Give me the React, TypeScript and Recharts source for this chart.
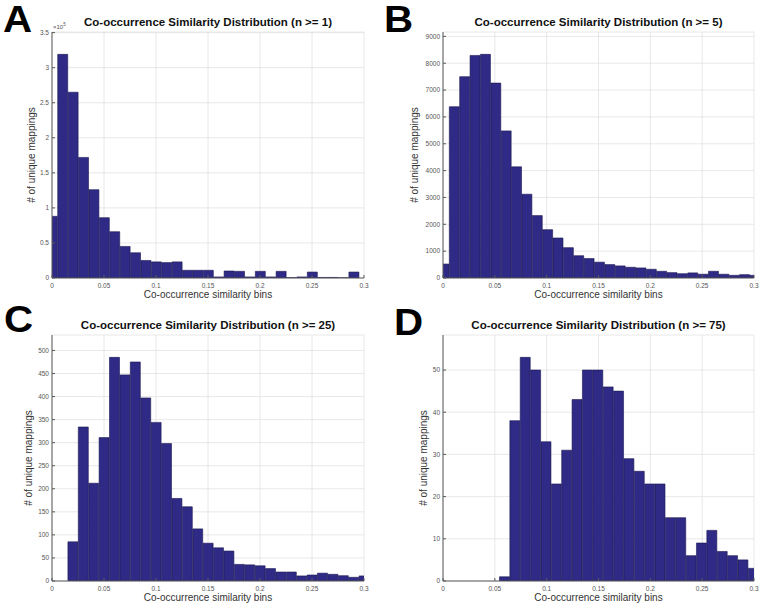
import { Bar, BarChart, CartesianGrid, XAxis, YAxis } from "recharts";

const FONT = "'Liberation Sans', Arial, Helvetica, sans-serif";
const BAR_FILL = "#2f2a85";
const BAR_EDGE = "#1b1850";
const FRAME = "#5a5a5a";

const BIN_WIDTH = 0.01;
const X_TICKS = [0, 0.05, 0.1, 0.15, 0.2, 0.25, 0.3];

// n >= 1 (counts, axis shows x10^5)
const A_FIRST_EDGE = -0.0045;
const A_COUNTS = [
  88000, 319000, 265000, 172000, 126000, 86000, 66000, 45000, 36000, 25000,
  23000, 22000, 23000, 11000, 11000, 11000, 1500, 10000, 9500, 1500, 9500,
  1500, 9500, 500, 1500, 8500, 800, 800, 300, 8500, 0,
];
const A_Y_TICKS = [0, 50000, 100000, 150000, 200000, 250000, 300000, 350000];

// n >= 5
const B_FIRST_EDGE = -0.0039;
const B_COUNTS = [
  520, 6380, 7500, 8290, 8330, 7260, 5480, 4140, 3120, 2325, 1800, 1490, 1130,
  830, 725, 590, 500, 450, 400, 375, 325, 250, 200, 160, 190, 140, 250, 140,
  100, 125, 100,
];
const B_Y_TICKS = [0, 1000, 2000, 3000, 4000, 5000, 6000, 7000, 8000, 9000];

// n >= 25
const C_FIRST_EDGE = 0.0153;
const C_COUNTS = [
  85, 334, 212, 311, 485, 447, 475, 397, 344, 298, 179, 161, 113, 82, 72, 65,
  36, 35, 33, 27, 19.5, 19.5, 11, 13, 17, 14.5, 11.5, 8, 11,
];
const C_Y_TICKS = [0, 50, 100, 150, 200, 250, 300, 350, 400, 450, 500];

// n >= 75
const D_FIRST_EDGE = 0.0545;
const D_COUNTS = [
  1, 38, 53, 50, 33, 23, 31, 43, 50, 50, 46, 45, 29, 26, 23, 23, 15, 15, 6, 9,
  12, 7, 6, 5, 3,
];
const D_Y_TICKS = [0, 10, 20, 30, 40, 50];

const W = 381;
const H = 303;
const Y_AXIS_W = 30;

const fmtX = (v: number) => String(Number(v.toFixed(2)));

type PanelProps = {
  letter: string;
  n: number;
  counts: number[];
  firstEdge: number;
  yTicks: number[];
  yFormat?: (v: number) => string;
  left: number;
  top: number;
  marginLeft: number;
  marginRight: number;
  yLabelOffset: number;
  letterLeft: number;
  letterTop: number;
  exponent?: boolean;
};

function Panel(p: PanelProps) {
  const data = p.counts.map((y, i) => ({
    x: p.firstEdge + BIN_WIDTH * (i + 0.5),
    y,
  }));
  const yMax = Math.max(...p.counts) * 1.1;
  const plotLeft = p.marginLeft + Y_AXIS_W;
  const plotW = W - p.marginRight - plotLeft;
  const tickStyle = { fontSize: 6.5, fill: "#555", fontFamily: FONT };

  return (
    <div style={{ position: "absolute", left: p.left, top: p.top, width: W, height: H }}>
      <BarChart
        width={W}
        height={H}
        data={data}
        margin={{ top: 32, right: p.marginRight, bottom: 0, left: p.marginLeft }}
        barCategoryGap={0}
        barGap={0}
      >
        <CartesianGrid stroke="#e2e2e2" strokeWidth={0.8} />
        <XAxis
          dataKey="x"
          type="number"
          domain={[0, 0.3]}
          ticks={X_TICKS}
          interval={0}
          allowDataOverflow
          height={25}
          tickSize={-3}
          tickMargin={8}
          tick={tickStyle}
          tickFormatter={fmtX}
          stroke={FRAME}
          label={{
            value: "Co-occurrence similarity bins",
            position: "insideBottom",
            offset: 5,
            style: { fontSize: 10, fill: "#333", fontFamily: FONT },
          }}
        />
        <XAxis
          xAxisId="top"
          orientation="top"
          type="number"
          domain={[0, 0.3]}
          ticks={X_TICKS}
          interval={0}
          height={0}
          tick={false}
          tickSize={-3}
          stroke={FRAME}
        />
        <YAxis
          type="number"
          domain={[0, yMax]}
          ticks={p.yTicks}
          interval={0}
          allowDataOverflow
          width={Y_AXIS_W}
          tickSize={-3}
          tickMargin={6}
          tick={tickStyle}
          tickFormatter={p.yFormat}
          stroke={FRAME}
          label={{
            value: "# of unique mappings",
            angle: -90,
            position: "insideLeft",
            offset: p.yLabelOffset,
            style: { fontSize: 10, fill: "#333", fontFamily: FONT, textAnchor: "middle" },
          }}
        />
        <YAxis
          yAxisId="right"
          orientation="right"
          type="number"
          domain={[0, yMax]}
          ticks={p.yTicks}
          interval={0}
          width={0}
          tick={false}
          tickSize={-3}
          stroke={FRAME}
        />
        <Bar
          dataKey="y"
          fill={BAR_FILL}
          stroke={BAR_EDGE}
          strokeWidth={0.6}
          isAnimationActive={false}
        />
      </BarChart>
      <div
        style={{
          position: "absolute",
          left: plotLeft,
          width: plotW,
          top: 17,
          textAlign: "center",
          fontFamily: FONT,
          fontWeight: "bold",
          fontSize: 11.5,
          lineHeight: 1,
          color: "#111",
          whiteSpace: "nowrap",
        }}
      >
        {`Co-occurrence Similarity Distribution (n >= ${p.n})`}
      </div>
      <div
        style={{
          position: "absolute",
          left: p.letterLeft,
          top: p.letterTop,
          fontFamily: FONT,
          fontWeight: "bold",
          fontSize: 36,
          lineHeight: 1,
          color: "#000",
          transform: "scaleX(1.12)",
          transformOrigin: "left",
        }}
      >
        {p.letter}
      </div>
      {p.exponent && (
        <div
          style={{
            position: "absolute",
            left: plotLeft + 1,
            top: 23,
            fontFamily: FONT,
            fontSize: 6,
            lineHeight: 1,
            color: "#555",
          }}
        >
          ×10<sup style={{ fontSize: 4.5 }}>5</sup>
        </div>
      )}
    </div>
  );
}

export default function App() {
  return (
    <div
      style={{
        position: "absolute",
        left: 0,
        top: 0,
        width: 762,
        height: 606,
        background: "#fff",
        overflow: "hidden",
      }}
    >
      <Panel
        letter="A"
        n={1}
        counts={A_COUNTS}
        firstEdge={A_FIRST_EDGE}
        yTicks={A_Y_TICKS}
        yFormat={(v) => String(v / 100000)}
        left={0}
        top={0}
        marginLeft={22}
        marginRight={17}
        yLabelOffset={9}
        letterLeft={3}
        letterTop={1.5}
        exponent
      />
      <Panel
        letter="B"
        n={5}
        counts={B_COUNTS}
        firstEdge={B_FIRST_EDGE}
        yTicks={B_Y_TICKS}
        left={381}
        top={0}
        marginLeft={32}
        marginRight={8}
        yLabelOffset={1}
        letterLeft={3}
        letterTop={1.5}
      />
      <Panel
        letter="C"
        n={25}
        counts={C_COUNTS}
        firstEdge={C_FIRST_EDGE}
        yTicks={C_Y_TICKS}
        left={0}
        top={303}
        marginLeft={22}
        marginRight={17}
        yLabelOffset={6}
        letterLeft={4}
        letterTop={-1.5}
      />
      <Panel
        letter="D"
        n={75}
        counts={D_COUNTS}
        firstEdge={D_FIRST_EDGE}
        yTicks={D_Y_TICKS}
        left={381}
        top={303}
        marginLeft={32}
        marginRight={8}
        yLabelOffset={10}
        letterLeft={13}
        letterTop={1.5}
      />
    </div>
  );
}
